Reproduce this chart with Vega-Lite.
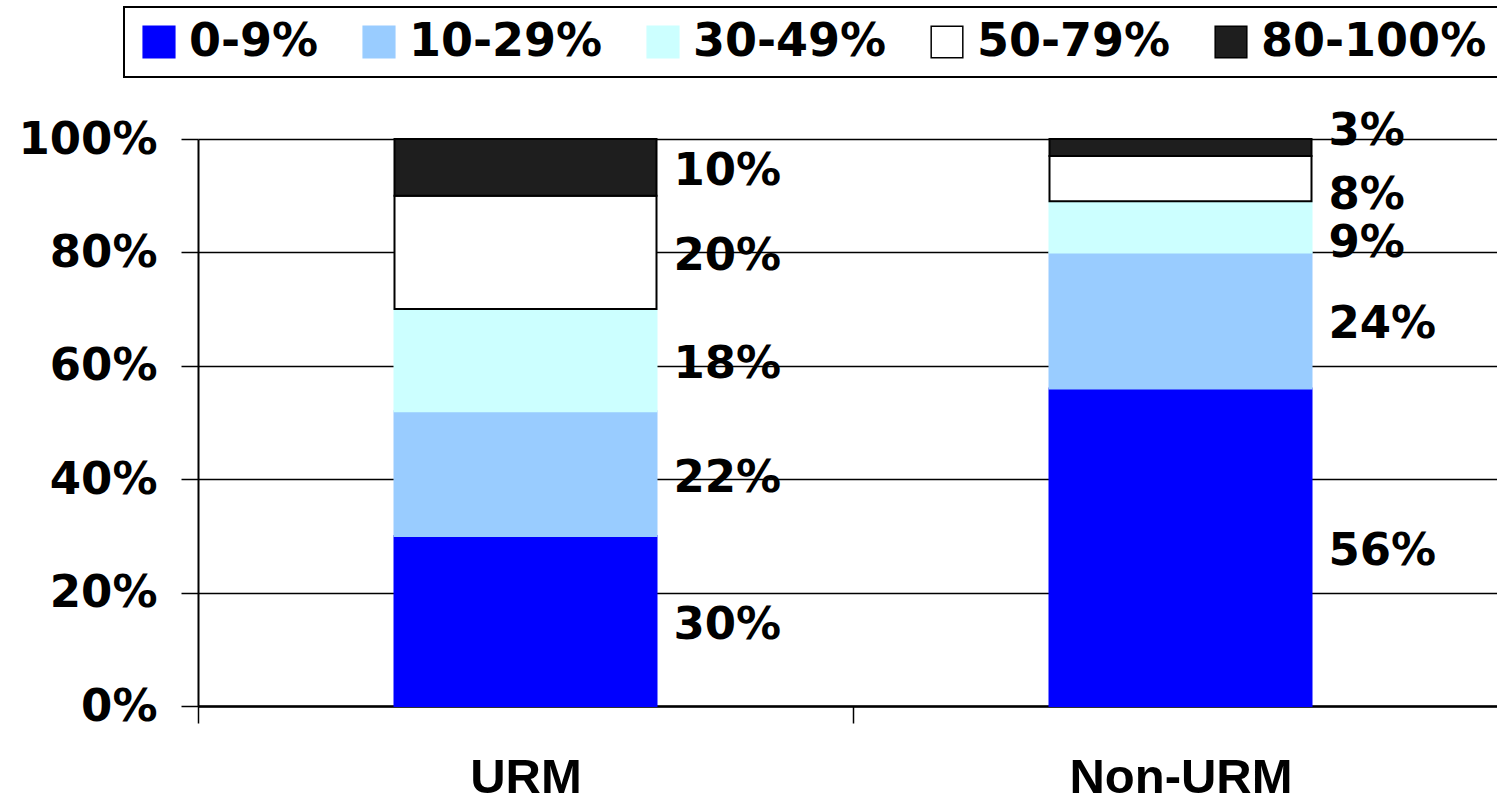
{
  "$schema": "https://vega.github.io/schema/vega-lite/v6.json",
  "width": 1299,
  "height": 567,
  "autosize": "none",
  "padding": {"left": 198, "top": 139, "right": 0, "bottom": 95},
  "background": "white",
  "config": {
    "view": {"stroke": null},
    "axis": {
      "title": null,
      "labelColor": "black",
      "labelLimit": 0,
      "tickColor": "black",
      "tickSize": 17,
      "tickWidth": 1.5,
      "domainColor": "black",
      "domainWidth": 2
    },
    "legend": {
      "title": null,
      "orient": "none",
      "legendX": -74,
      "legendY": -132,
      "direction": "horizontal",
      "columns": 5,
      "symbolType": "square",
      "symbolSize": 1000,
      "symbolStrokeWidth": 1.5,
      "labelFont": "DejaVu Sans",
      "labelFontWeight": "bold",
      "labelFontSize": 46,
      "labelColor": "black",
      "labelLimit": 0,
      "labelOffset": 7,
      "columnPadding": 37,
      "padding": 12,
      "strokeColor": "black",
      "fillColor": "white"
    }
  },
  "data": {
    "values": [
      {"group": "URM", "range": "0-9%", "share": 0.30},
      {"group": "URM", "range": "10-29%", "share": 0.22},
      {"group": "URM", "range": "30-49%", "share": 0.18},
      {"group": "URM", "range": "50-79%", "share": 0.20},
      {"group": "URM", "range": "80-100%", "share": 0.10},
      {"group": "Non-URM", "range": "0-9%", "share": 0.56},
      {"group": "Non-URM", "range": "10-29%", "share": 0.24},
      {"group": "Non-URM", "range": "30-49%", "share": 0.09},
      {"group": "Non-URM", "range": "50-79%", "share": 0.08},
      {"group": "Non-URM", "range": "80-100%", "share": 0.03}
    ]
  },
  "encoding": {
    "x": {
      "field": "group",
      "type": "nominal",
      "sort": ["URM", "Non-URM"],
      "scale": {"paddingInner": 0, "paddingOuter": 0, "rangeMax": 1310},
      "axis": {
        "labelAngle": 0,
        "labelFont": "Liberation Sans",
        "labelFontWeight": "bold",
        "labelFontSize": 49,
        "labelPadding": 30,
        "tickBand": "extent",
        "domainWidth": 2.5
      }
    },
    "order": {"field": "range", "type": "nominal", "sort": "ascending"}
  },
  "layer": [
    {
      "mark": {"type": "bar", "width": {"band": 0.4}, "strokeWidth": 2},
      "encoding": {
        "y": {
          "field": "share",
          "type": "quantitative",
          "stack": "zero",
          "scale": {"domain": [0, 1], "nice": false},
          "axis": {
            "values": [0, 0.2, 0.4, 0.6, 0.8, 1],
            "format": ".0%",
            "grid": true,
            "gridColor": "black",
            "gridWidth": 1.5,
            "gridOpacity": 1,
            "labelFont": "DejaVu Sans",
            "labelFontWeight": "bold",
            "labelFontSize": 45,
            "labelPadding": 24
          }
        },
        "color": {
          "field": "range",
          "type": "nominal",
          "scale": {
            "domain": ["0-9%", "10-29%", "30-49%", "50-79%", "80-100%"],
            "range": ["#0000FF", "#99CCFF", "#CCFFFF", "#FFFFFF", "#1E1E1E"]
          },
          "legend": {"encode": {"legend": {"update": {"strokeWidth": {"value": 2}}}}}
        },
        "stroke": {
          "field": "range",
          "type": "nominal",
          "scale": {
            "domain": ["0-9%", "10-29%", "30-49%", "50-79%", "80-100%"],
            "range": ["#0000FF", "#99CCFF", "#CCFFFF", "#000000", "#000000"]
          },
          "legend": {"encode": {"legend": {"update": {"strokeWidth": {"value": 2}}}}}
        }
      }
    },
    {
      "mark": {
        "type": "text",
        "align": "left",
        "baseline": "middle",
        "dx": 17,
        "dy": {"expr": "datum.share < 0.05 ? -17 : datum.share < 0.1 ? 16 : 4"},
        "font": "DejaVu Sans",
        "fontWeight": "bold",
        "fontSize": 45,
        "color": "black"
      },
      "encoding": {
        "x": {"field": "group", "type": "nominal", "sort": ["URM", "Non-URM"], "bandPosition": 0.7},
        "y": {"field": "share", "type": "quantitative", "stack": "zero", "bandPosition": 0.5},
        "detail": {"field": "range", "type": "nominal"},
        "text": {"field": "share", "type": "quantitative", "format": ".0%"}
      }
    }
  ]
}
